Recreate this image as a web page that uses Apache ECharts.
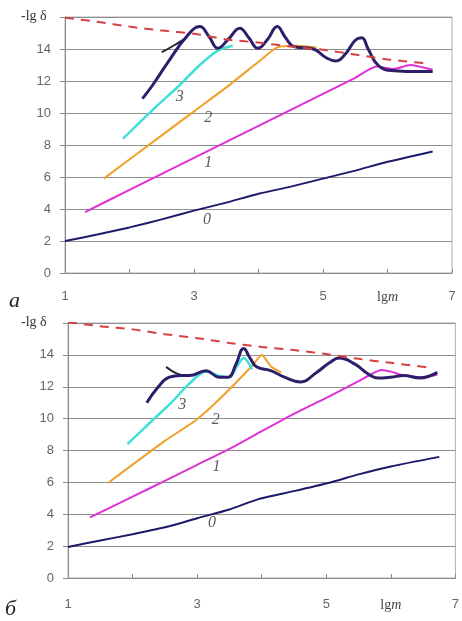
<!DOCTYPE html>
<html><head><meta charset="utf-8">
<script src="https://cdn.jsdelivr.net/npm/echarts@6/dist/echarts.min.js"></script>
<style>html,body{margin:0;padding:0;background:#fff}#c{width:462px;height:621px}</style>
</head><body><div id="c"></div>
<script>
// ---- data: chart a (top) ----
var aEnvelope = [[1,15.95],[1.5,15.7],[2,15.4],[2.5,15.15],[3,14.95],[3.5,14.6],[4,14.4],[4.5,14.15],[5,13.95],[5.5,13.65],[6,13.35],[6.6,13.1]];
var aCurve0 = [[1,2],[1.5,2.4],[2,2.85],[2.5,3.35],[3,3.9],[3.5,4.4],[4,4.95],[4.5,5.4],[5,5.9],[5.5,6.4],[6,6.95],[6.7,7.6]];
var aCurve1 = [[1.31,3.8],[2,5.2],[2.5,6.2],[3,7.2],[3.5,8.2],[4,9.2],[4.5,10.2],[5,11.2],[5.5,12.2],[5.83,12.9],[6.1,12.75],[6.35,13.0],[6.7,12.7]];
var aCurve2 = [[1.6,5.9],[2.5,8.6],[3,10.1],[3.5,11.6],[4,13.2],[4.29,14.1],[4.6,14.2],[4.9,14.1]];
var aCurve3 = [[1.9,8.4],[2.36,10.2],[2.78,11.75],[3.09,13.0],[3.37,13.9],[3.6,14.2]];
var aCurve4 = [[2.2,10.9],[2.36,11.75],[2.6,13.2],[2.89,14.8],[3.09,15.4],[3.23,14.8],[3.37,14.05],[3.53,14.6],[3.71,15.3],[3.85,14.7],[3.99,14.05],[4.14,14.6],[4.29,15.4],[4.42,14.7],[4.55,14.15],[4.85,14.0],[5.05,13.45],[5.2,13.25],[5.35,13.7],[5.5,14.55],[5.6,14.7],[5.7,14.0],[5.85,13.0],[6.05,12.65],[6.3,12.6],[6.7,12.6]];
var aCurve5 = [[2.5,13.8],[2.7,14.25],[2.88,14.7]];
// ---- data: chart б (bottom) ----
var bEnvelope = [[1,16.05],[1.5,15.8],[2,15.6],[2.5,15.3],[3,15.05],[3.5,14.75],[4,14.5],[4.5,14.3],[5,14.05],[5.5,13.75],[6,13.5],[6.6,13.2]];
var bCurve0 = [[1,1.95],[1.5,2.35],[2,2.75],[2.57,3.25],[3,3.75],[3.5,4.3],[3.95,4.95],[4.5,5.45],[5.03,5.96],[5.5,6.5],[6,7.0],[6.75,7.6]];
var bCurve1 = [[1.34,3.8],[2,5.1],[2.5,6.1],[3,7.1],[3.5,8.1],[3.95,9.1],[4.5,10.3],[5,11.3],[5.5,12.35],[5.7,12.8],[5.85,13.05],[6.0,12.95],[6.2,12.7],[6.5,12.6],[6.72,12.75]];
var bCurve2 = [[1.62,5.96],[2.5,8.6],[2.98,9.9],[3.34,11.2],[3.85,13.3],[4.0,14.0],[4.15,13.25],[4.3,12.9]];
var bCurve3 = [[1.92,8.4],[2.31,9.9],[2.6,11.0],[2.88,12.2],[3.14,12.95],[3.34,12.7],[3.5,12.6],[3.62,13.3],[3.72,13.8],[3.85,13.1]];
var bCurve4 = [[2.22,11.0],[2.4,12.0],[2.57,12.6],[2.75,12.7],[2.88,12.7],[3.14,13.0],[3.34,12.6],[3.48,12.6],[3.6,13.4],[3.72,14.4],[3.82,13.8],[3.92,13.25],[4.15,13.0],[4.35,12.6],[4.6,12.3],[4.85,12.9],[5.05,13.5],[5.2,13.8],[5.45,13.4],[5.65,12.8],[5.8,12.55],[6.0,12.6],[6.2,12.7],[6.45,12.55],[6.72,12.9]];
var bCurve5 = [[2.52,13.25],[2.65,12.9],[2.78,12.7]];
// ---- labels ----
var xTickLabels = {1:'1',3:'3',5:'5',6:'lgm',7:'7'};
var yTickValues = [0,2,4,6,8,10,12,14];
var yTitle = '-lg δ';
var panelNames = ['а','б'];
var curveNames = ['0','1','2','3'];
var aLabelPos = [[3.2,3.3],[3.22,6.9],[3.22,9.7],[2.78,11.0]];
var bLabelPos = [[3.23,3.45],[3.3,7.0],[3.29,9.9],[2.77,10.85]];

var chart = echarts.init(document.getElementById('c'), null, {renderer:'canvas'});
var grids = [
  {left:65, top:17, width:387, height:256},
  {left:68, top:323, width:389, height:255}
];
function xAx(i){
  return {type:'value', gridIndex:i, min:1, max:7, interval:1,
    axisLine:{show:true, lineStyle:{color:'#8a8a8a'}},
    axisTick:{show:true, length:4, inside:true, interval:function(idx,v){return v===3||v===5;}, lineStyle:{color:'#8a8a8a'}},
    splitLine:{show:false},
    axisLabel:{margin:i===0?17:20, color:'#666', fontSize:13, fontFamily:'Liberation Sans, Arial',
      formatter:function(v){ if(v===6) return '{s|lg}{m|m}'; return xTickLabels[v]||''; },
      rich:{s:{fontFamily:'Liberation Serif',fontSize:14,color:'#444'},m:{fontFamily:'Liberation Serif',fontStyle:'italic',fontSize:14,color:'#444'}}}};
}
function yAx(i){
  return {type:'value', gridIndex:i, min:0, max:16, interval:2,
    axisLine:{show:true, lineStyle:{color:'#8a8a8a'}},
    axisTick:{show:true, length:5, lineStyle:{color:'#8a8a8a'}},
    splitLine:{show:true, lineStyle:{color:'#8f8f8f', width:1}},
    axisLabel:{margin:14, color:'#666', fontSize:13, fontFamily:'Liberation Sans, Arial',
      formatter:function(v){ return yTickValues.indexOf(v)>=0 ? String(v) : ''; }}};
}
function line(data, gi, color, width, extra){
  var s = {type:'line', xAxisIndex:gi, yAxisIndex:gi, data:data, showSymbol:false, smooth:0.3,
    lineStyle:{color:color, width:width}, z:2, silent:true};
  if(extra) for(var k in extra) s[k]=extra[k];
  return s;
}
function labelSeries(pos, gi){
  return {type:'scatter', xAxisIndex:gi, yAxisIndex:gi, symbolSize:1, itemStyle:{color:'rgba(0,0,0,0)'},
    data:pos.map(function(p,i){return {value:p, name:curveNames[i]};}),
    label:{show:true, position:'inside', formatter:function(p){return p.name;}, color:'#333',
      fontFamily:'Liberation Serif', fontStyle:'italic', fontSize:16}, z:5, silent:true};
}
var series = [];
[[aEnvelope,aCurve0,aCurve1,aCurve2,aCurve3,aCurve4,aCurve5,aLabelPos],[bEnvelope,bCurve0,bCurve1,bCurve2,bCurve3,bCurve4,bCurve5,bLabelPos]].forEach(function(d,gi){
  series.push(line(d[1], gi, '#1c1a6a', 2, {smooth:0.2}));
  series.push(line(d[2], gi, '#e030d8', 2, {smooth:0.2}));
  series.push(line(d[3], gi, '#f0a028', 2, {smooth:0.2}));
  series.push(line(d[4], gi, '#40e0d8', 2.5, {smooth:0.3}));
  series.push(line(d[6], gi, '#2a2030', 2, {smooth:0.3}));
  series.push(line(d[5], gi, '#2e1e6a', 3, {smooth:0.45}));
  series.push(line(d[0], gi, '#d64040', 2, {smooth:0.3, lineStyle:{color:'#d64040', width:2, type:[9,7]}}));
  series.push(labelSeries(d[7], gi));
});
chart.setOption({
  animation:false,
  backgroundColor:'#fff',
  grid:grids.map(function(g){return {left:g.left, top:g.top, width:g.width, height:g.height, show:true, borderColor:'#b0b0b0', borderWidth:1, backgroundColor:'transparent'};}),
  xAxis:[xAx(0), xAx(1)],
  yAxis:[yAx(0), yAx(1)],
  series:series,
  graphic:[
    {type:'text', left:21, top:9, style:{text:yTitle, font:'14px "Liberation Serif"', fill:'#333'}},
    {type:'text', left:21, top:315, style:{text:yTitle, font:'14px "Liberation Serif"', fill:'#333'}},
    {type:'text', left:9, top:290, style:{text:panelNames[0], font:'italic 22px "Liberation Serif"', fill:'#222'}},
    {type:'text', left:5, top:598, style:{text:panelNames[1], font:'italic 22px "Liberation Serif"', fill:'#222'}}
  ]
});
</script></body></html>
